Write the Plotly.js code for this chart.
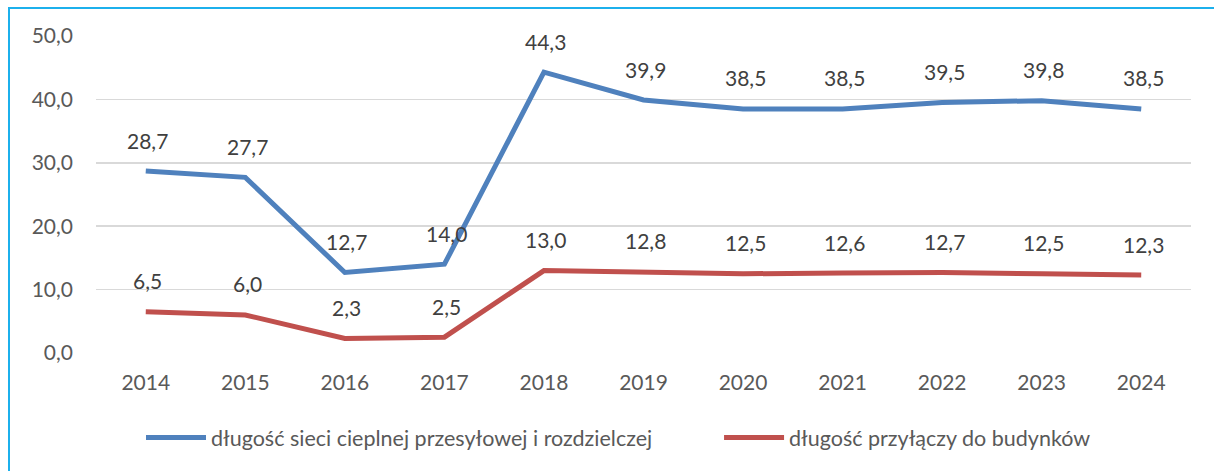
<!DOCTYPE html>
<html><head><meta charset="utf-8">
<script src="https://cdn.plot.ly/plotly-3.0.1.min.js"></script>
<style>
html,body{margin:0;padding:0;background:#fff;}
#wrap{position:relative;width:1214px;height:471px;}
#chart{width:1214px;height:471px;}
#frame{position:absolute;left:8px;top:7px;right:0;bottom:-5px;border-top:2px solid #1CB0EC;border-left:2px solid #1CB0EC;pointer-events:none;}
</style></head>
<body>
<div id="wrap"><div id="chart"></div><div id="frame"></div></div>
<script>
const years = ['2014','2015','2016','2017','2018','2019','2020','2021','2022','2023','2024'];
const siec = [28.7, 27.7, 12.7, 14.0, 44.3, 39.9, 38.5, 38.5, 39.5, 39.8, 38.5];
const przylacza = [6.5, 6.0, 2.3, 2.5, 13.0, 12.8, 12.5, 12.6, 12.7, 12.5, 12.3];
const name1 = 'długość sieci cieplnej przesyłowej i rozdzielczej';
const name2 = 'długość przyłączy do budynków';
const yTicks = [0, 10, 20, 30, 40, 50];

const font = 'Lato, "Open Sans", sans-serif';
const fmt = v => v.toFixed(1).replace('.', ',');

const annotations = [];
[siec, przylacza].forEach(arr => {
  arr.forEach((v, i) => annotations.push({
    x: i, y: v, xref: 'x', yref: 'y', text: fmt(v), showarrow: false,
    yshift: 31, xshift: 2, font: {family: font, size: 21, color: '#404040'}
  }));
});

const traces = [
  {x: years, y: siec, name: name1, type: 'scatter', mode: 'lines', legend: 'legend',
   line: {color: '#4F81BD', width: 5}},
  {x: years, y: przylacza, name: name2, type: 'scatter', mode: 'lines', legend: 'legend2',
   line: {color: '#C0504D', width: 5}}
];

const legendFont = {family: font, size: 21.5, color: '#595959'};
const layout = {
  width: 1214, height: 471,
  margin: {l: 96, r: 23, t: 36, b: 118},
  paper_bgcolor: '#fff', plot_bgcolor: '#fff',
  separators: ',.',
  showlegend: true,
  legend: {orientation: 'h', xref: 'paper', x: 0.0411, xanchor: 'left', y: -0.267, yanchor: 'middle',
    font: legendFont, itemwidth: 60, bgcolor: 'rgba(0,0,0,0)'},
  legend2: {orientation: 'h', xref: 'paper', x: 0.569, xanchor: 'left', y: -0.267, yanchor: 'middle',
    font: legendFont, itemwidth: 60, bgcolor: 'rgba(0,0,0,0)'},
  xaxis: {type: 'category', categoryorder: 'array', categoryarray: years,
    range: [-0.5, years.length - 0.5], autorange: false,
    showgrid: false, zeroline: false, showline: false, ticks: '',
    tickfont: {family: font, size: 21, color: '#595959'}, ticklabelstandoff: 15},
  yaxis: {range: [0, 50], autorange: false, tickvals: yTicks, tickformat: '.1f', showgrid: true,
    gridcolor: '#D9D9D9', gridwidth: 1.5, zeroline: false, showline: false, ticks: '',
    tickfont: {family: font, size: 21, color: '#595959'}, ticklabelstandoff: 22},
  annotations: annotations
};

Plotly.newPlot('chart', traces, layout, {displayModeBar: false, staticPlot: true});
</script>
</body></html>
